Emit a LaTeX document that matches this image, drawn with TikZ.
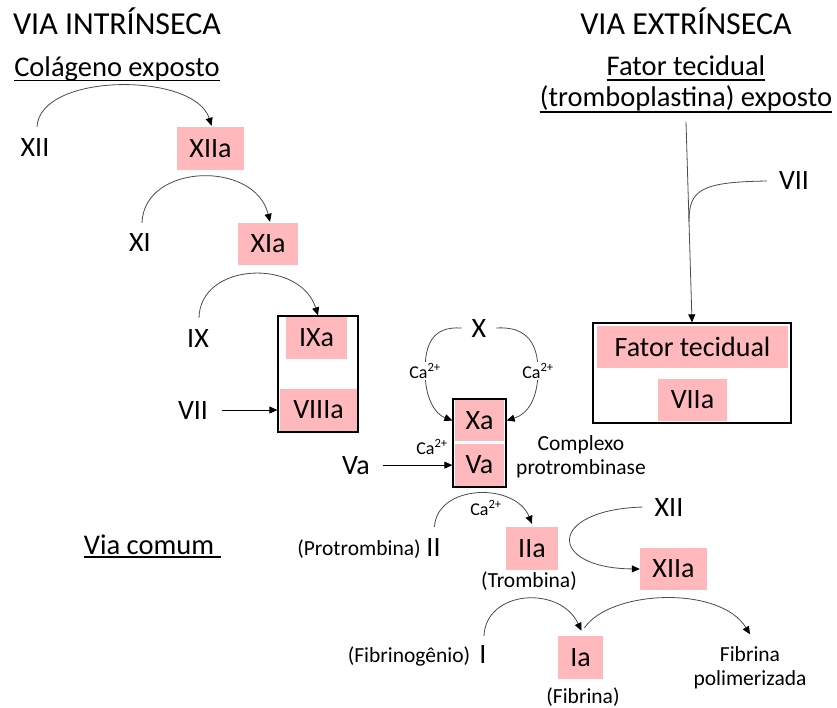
\documentclass[tikz,border=0pt]{standalone}
\usepackage{fontspec}
\setmainfont{Carlito}
\usetikzlibrary{arrows.meta,calc}
\definecolor{pinkbox}{RGB}{255,185,188}
\definecolor{arcgray}{RGB}{75,75,75}
\begin{document}
\begin{tikzpicture}[x=1pt,y=-1pt,
  lbl/.style={anchor=base,inner sep=0pt,font=\fontsize{28}{32}\selectfont},
  ttl/.style={anchor=base,inner sep=0pt,font=\fontsize{32}{36}\selectfont},
  sub/.style={anchor=base,inner sep=0pt,font=\fontsize{28.5}{32}\selectfont},
  small/.style={anchor=base,inner sep=0pt,font=\fontsize{21.5}{24.5}\selectfont},
  ca/.style={inner sep=1.5pt,fill=white,font=\fontsize{18}{20}\selectfont},
  pbox/.style={fill=pinkbox,inner sep=0pt,font=\fontsize{28}{32}\selectfont},
  frame/.style={draw=black,line width=1.3pt,inner sep=0pt},
  uline/.style={line width=1.4pt},
  arcarrow/.style={draw=arcgray,line width=0.8pt,-{Triangle[length=8pt,width=7pt,color=black]}},
  arcline/.style={draw=arcgray,line width=0.8pt},
  straightarrow/.style={draw=black,line width=0.8pt,-{Triangle[length=8pt,width=7pt]}}
]
\fill[white] (0,0) rectangle (837,708);
\useasboundingbox (0,0) rectangle (837,708);

% titles
\node[ttl] (t1) at (117,35) {VIA INTRÍNSECA};
\node[sub] (t2) at (117,77) {Colágeno exposto};
\node[ttl] (t3) at (686,35) {VIA EXTRÍNSECA};
\node[sub] (t4) at (686,76) {Fator tecidual};
\node[sub] (t5) at (686,107) {(tromboplastina) exposto};
\draw[uline] ($(t2.base west)+(0,3.5)$) -- ($(t2.base east)+(0,3.5)$);
\draw[uline] ($(t4.base west)+(0,4)$) -- ($(t4.base east)+(0,4)$);
\draw[uline] ($(t5.base west)+(0,5)$) -- ($(t5.base east)+(0,5)$);

% intrinsic
\node[lbl] (xii) at (35,157) {XII};
\node[pbox,minimum width=67pt,minimum height=43pt] (xiia) at (210.5,148.5) {XIIa};
\node[lbl] (xi) at (140,252) {XI};
\node[pbox,minimum width=60pt,minimum height=42pt] (xia) at (268,244) {XIa};
\node[lbl] (ix) at (198,347) {IX};
\node[lbl] (vii) at (193,419) {VII};
\node[pbox,minimum width=61pt,minimum height=42pt] (ixa) at (316.5,338) {IXa};
\node[pbox,minimum width=77pt,minimum height=42pt] (viiia) at (318.5,410) {VIIIa};
\node[frame,minimum width=80pt,minimum height=116pt] (boxix) at (318,374) {};

\draw[arcarrow] ($(xii.north)+(2,-12)$) .. controls (40,72) and (195,72) .. ($(xiia.north)+(1,-1)$);
\draw[arcarrow] ($(xi.north)+(2,-11)$) .. controls (144,163) and (255,160) .. ($(xia.north)+(2,-1)$);
\draw[arcarrow] ($(ix.north)+(1,-11)$) .. controls (200,262) and (300,258) .. (boxix.north);
\draw[straightarrow] ($(vii.east)+(14,0)$) -- (vii.east -| boxix.west);

% central complex
\node[lbl] (x) at (479,337) {X};
\node[pbox,minimum width=49pt,minimum height=41pt] (xa) at (479.5,420.5) {Xa};
\node[pbox,minimum width=49pt,minimum height=42pt] (va) at (479.5,465) {Va};
\node[frame,minimum width=53pt,minimum height=88pt] (boxx) at (479.5,443) {};
\draw[arcarrow] ($(x.west)+(-10,0)$) .. controls (432,326) and (425,345) .. (425,371)
   .. controls (425,398) and (435,414) .. (boxx.west |- xa.center);
\draw[arcarrow] ($(x.east)+(10,0)$) .. controls (528,326) and (538,345) .. (538,371)
   .. controls (538,398) and (528,414) .. (boxx.east |- xa.center);
\node[ca] (ca1) at (425,371) {Ca\textsuperscript{2+}};
\node[ca] (ca2) at (538,371) {Ca\textsuperscript{2+}};
\node[lbl] (vaf) at (356,474) {Va};
\draw[straightarrow] ($(vaf.east)+(13,0)$) -- (vaf.east -| boxx.west);
\node[ca,fill=none] (ca3) at (432,447) {Ca\textsuperscript{2+}};
\node[small,align=center,anchor=center] (cp) at (581,457) {Complexo\\protrombinase};

% common pathway
\node[sub] (vc) at (149,554) {Via comum};
\draw[uline] ($(vc.base west)+(0,3)$) -- ($(vc.base east)+(7,3)$);
\node[small] (protro) at (359,555) {(Protrombina)};
\node[lbl] (ii) at (433.5,556) {II};
\node[pbox,minimum width=52pt,minimum height=43pt] (iia) at (532,548.5) {IIa};
\node[small] (tromb) at (529,587) {(Trombina)};
\draw[arcarrow] ($(ii.north)+(1,-11)$) .. controls (437,484) and (515,482) .. ($(iia.north)+(0,-3)$);
\node[ca,fill=none] (ca4) at (486,508) {Ca\textsuperscript{2+}};

\node[lbl] (xii2) at (669,516) {XII};
\node[pbox,minimum width=67pt,minimum height=42pt] (xiia2) at (673.5,569) {XIIa};
\draw[arcarrow] ($(xii2.west)+(-12,0)$) .. controls (547,510) and (547,568) .. (xiia2.west);

\node[small] (fibrinog) at (409,662) {(Fibrinogênio)};
\node[lbl] (i1) at (483,663) {I};
\node[pbox,minimum width=45pt,minimum height=43pt] (ia) at (580.5,657.5) {Ia};
\node[small] (fibrina) at (583,703) {(Fibrina)};
\node[small,align=center,anchor=center] (fpol) at (750,668) {Fibrina\\polimerizada};
\draw[arcarrow] ($(i1.north)+(1,-9)$) .. controls (486,590) and (560,585) .. ($(ia.north)+(1,-5)$);
\draw[arcarrow] ($(ia.north)+(4,-8)$) .. controls (610,590) and (720,585) .. ($(fpol.north)+(0,-12)$);

% extrinsic
\node[lbl] (vii2) at (794,190) {VII};
\node[pbox,minimum width=191pt,minimum height=42pt] (ft) at (692.5,347) {Fator tecidual};
\node[pbox,minimum width=69pt,minimum height=42pt] (viia) at (692.5,400) {VIIa};
\node[frame,minimum width=198pt,minimum height=100pt] (boxft) at (692,373) {};
\draw[arcarrow] ($(t5.south)+(0,10)$) -- (boxft.north);
\coordinate (jn) at (689,222);
\draw[arcline] ($(vii2.west)+(-12,0)$) .. controls (700,182) and (689,190) .. (jn);
\end{tikzpicture}
\end{document}
